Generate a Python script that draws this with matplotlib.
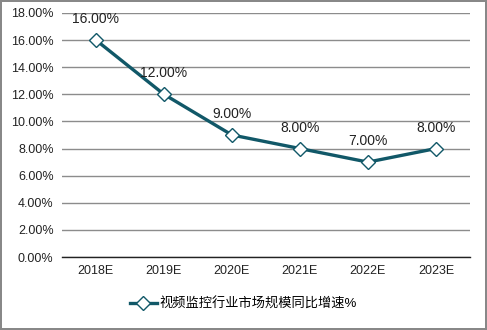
import matplotlib
matplotlib.use('Agg')
import matplotlib.pyplot as plt
from matplotlib.ticker import FuncFormatter

plt.rcParams['font.family'] = ['Liberation Sans', 'Noto Sans CJK SC', 'DejaVu Sans']

years = ['2018E', '2019E', '2020E', '2021E', '2022E', '2023E']
growth = [16.00, 12.00, 9.00, 8.00, 7.00, 8.00]
series_name = '视频监控行业市场规模同比增速%'

line_color = '#115868'

fig = plt.figure(figsize=(4.87, 3.3), dpi=100)
fig.patch.set_edgecolor('#888888')
fig.patch.set_linewidth(1.5)
ax = fig.add_axes([0.127, 0.221, 0.838, 0.740])

x = list(range(len(years)))
ax.plot(x, growth, color=line_color, linewidth=2.4, marker='D', markersize=7,
        markerfacecolor='white', markeredgecolor=line_color, markeredgewidth=1,
        label=series_name, zorder=3)

for xi, v in zip(x, growth):
    ax.annotate('%.2f%%' % v, (xi, v), xytext=(0, 10), textcoords='offset points',
                ha='center', va='bottom', fontsize=10, color='#222222')

ax.set_xlim(-0.5, len(years) - 0.5)
ax.set_ylim(0, 18)
ax.set_yticks(range(0, 19, 2))
ax.yaxis.set_major_formatter(FuncFormatter(lambda v, p: '%.2f%%' % v))
ax.set_xticks(x)
ax.set_xticklabels(years)
ax.tick_params(axis='both', length=0, labelsize=9, colors='#222222', pad=6)
ax.grid(axis='y', color='#8c8c8c', linewidth=1)
ax.set_axisbelow(True)
for s in ['top', 'right', 'left']:
    ax.spines[s].set_visible(False)
ax.spines['bottom'].set_color('#222222')
ax.spines['bottom'].set_linewidth(1)

fig.legend(loc='center', bbox_to_anchor=(0.5, 0.078), frameon=False,
           fontsize=9.5, handlelength=2.0, handletextpad=0.2)

fig.savefig('out.png', dpi=100, edgecolor=fig.get_edgecolor())
